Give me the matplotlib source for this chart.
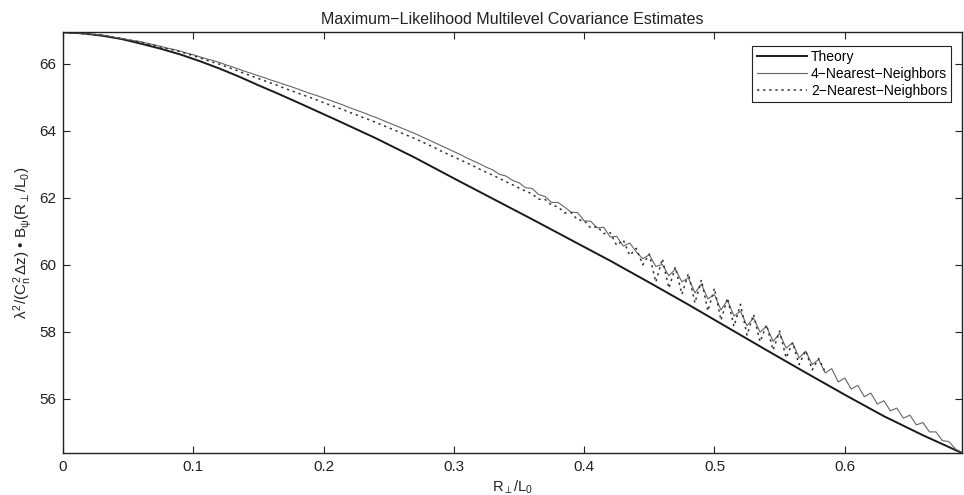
import numpy as np
import matplotlib
matplotlib.use("Agg")
import matplotlib.pyplot as plt

plt.rcParams['font.family'] = ['Liberation Sans', 'DejaVu Sans']
plt.rcParams['mathtext.fontset'] = 'custom'
plt.rcParams['mathtext.rm'] = 'Liberation Sans'
plt.rcParams['mathtext.it'] = 'Liberation Sans'
plt.rcParams['mathtext.bf'] = 'Liberation Sans:bold'

# ---- data ----
theory_x = [0.000, 0.015, 0.030, 0.045, 0.060, 0.075, 0.090, 0.105, 0.120, 0.135, 0.150,
            0.165, 0.18, 0.21, 0.24, 0.27, 0.30, 0.33, 0.36, 0.39, 0.42, 0.45, 0.48,
            0.51, 0.54, 0.57, 0.60, 0.63, 0.66, 0.69]
theory_y = [66.94, 66.91, 66.84, 66.74, 66.60, 66.45, 66.28, 66.08, 65.86, 65.62, 65.36,
            65.11, 64.85, 64.32, 63.78, 63.20, 62.58, 61.97, 61.36, 60.74, 60.12, 59.47, 58.81,
            58.13, 57.45, 56.78, 56.12, 55.48, 54.91, 54.38]

step = 0.005
nn4_y = [
    66.94, 66.93, 66.92, 66.90, 66.89, 66.87,
    66.86, 66.83, 66.79, 66.76, 66.72, 66.69,
    66.66, 66.61, 66.57, 66.52, 66.47, 66.43,
    66.38, 66.32, 66.27, 66.21, 66.15, 66.10,
    66.04, 65.97, 65.91, 65.84, 65.77, 65.71,
    65.64, 65.58, 65.51, 65.45, 65.38, 65.32,
    65.25, 65.18, 65.11, 65.05, 64.98, 64.91,
    64.84, 64.77, 64.69, 64.62, 64.55, 64.47,
    64.40, 64.32, 64.24, 64.16, 64.08, 64.00,
    63.92, 63.83, 63.74, 63.65, 63.56, 63.47,
    63.38, 63.29, 63.19, 63.10, 63.01, 62.91,
    62.83, 62.70, 62.65, 62.52, 62.45, 62.30,
    62.28, 62.10, 62.04, 61.86, 61.86, 61.72,
    61.57, 61.56, 61.31, 61.30, 61.10, 61.12,
    60.83, 60.85, 60.56, 60.65, 60.38, 60.18,
    60.30, 59.95, 60.01, 59.67, 59.87, 59.49,
    59.61, 59.16, 59.42, 58.98, 59.11, 58.65,
    58.94, 58.47, 58.61, 58.18, 58.41, 57.99,
    58.16, 57.71, 57.95, 57.51, 57.67, 57.22,
    57.42, 57.02, 57.17, 56.77, 56.90, 56.50,
    56.62, 56.29, 56.40, 56.06, 56.17, 55.84,
    55.94, 55.64, 55.72, 55.42, 55.51, 55.22,
    55.29, 55.01, 55.01, 54.75, 54.72, 54.50, 54.40,
]
nn2_y = [
    66.94, 66.93, 66.92, 66.90, 66.88, 66.87,
    66.85, 66.82, 66.78, 66.75, 66.71, 66.68,
    66.64, 66.59, 66.55, 66.50, 66.45, 66.41,
    66.36, 66.30, 66.24, 66.18, 66.11, 66.05,
    65.99, 65.92, 65.85, 65.78, 65.70, 65.63,
    65.56, 65.49, 65.42, 65.35, 65.27, 65.20,
    65.13, 65.06, 64.99, 64.92, 64.84, 64.77,
    64.70, 64.63, 64.55, 64.48, 64.40, 64.33,
    64.25, 64.17, 64.09, 64.01, 63.93, 63.85,
    63.77, 63.68, 63.59, 63.50, 63.40, 63.31,
    63.22, 63.13, 63.04, 62.95, 62.85, 62.76,
    62.67, 62.58, 62.48, 62.39, 62.29, 62.20,
    62.12, 61.96, 61.95, 61.78, 61.73, 61.55,
    61.56, 61.34, 61.32, 61.10, 61.14, 60.93,
    60.96, 60.58, 60.74, 60.28, 60.49, 60.00,
    60.32, 59.48, 60.18, 59.30, 59.93, 59.12,
    59.74, 58.86, 59.55, 58.62, 59.30, 58.34,
    59.01, 58.16, 58.82, 57.90, 58.52, 57.70,
    58.21, 57.45, 58.02, 57.22, 57.68, 57.02,
    57.44, 56.86, 57.20, 56.80,
]
nn4_x = np.arange(len(nn4_y)) * step
nn2_x = np.arange(len(nn2_y)) * step

title = "Maximum\u2212Likelihood Multilevel Covariance Estimates"
labels = ["Theory", "4\u2212Nearest\u2212Neighbors", "2\u2212Nearest\u2212Neighbors"]
xticks = [0, 0.1, 0.2, 0.3, 0.4, 0.5, 0.6]
xticklabels = ["0", "0.1", "0.2", "0.3", "0.4", "0.5", "0.6"]
yticks = [56, 58, 60, 62, 64, 66]

fig = plt.figure(figsize=(9.64, 4.95), dpi=100)
ax = fig.add_axes([63/964, 1 - 453/495, (962-63)/964, (453-32)/495])

ax.plot(theory_x, theory_y, color='#1a1a1a', lw=1.4, label=labels[0])
ax.plot(nn4_x, nn4_y, color='#666666', lw=0.8, label=labels[1])
ax.plot(nn2_x, nn2_y, color='#333333', lw=1.1, ls=(0, (1.5, 2.5)), label=labels[2])

ax.set_xlim(0, 0.69)
ax.set_ylim(54.38, 66.95)
ax.set_xticks(xticks)
ax.set_xticklabels(xticklabels)
ax.set_yticks(yticks)
ax.tick_params(direction='in', top=True, right=True, length=5, width=0.8,
               labelsize=11, colors='#222222', pad=5)
for s in ax.spines.values():
    s.set_linewidth(1.0)
    s.set_color('#222222')

ax.set_title(title, fontsize=11.5, color='#222222', pad=6)
ax.set_xlabel(r'$R_\perp/L_0$', fontsize=10.5, color='#222222', labelpad=3)
ax.set_ylabel(r'$\lambda^2/(C_n^2\,\Delta z)$ ' + '\u2022' + r' $B_\psi(R_\perp/L_0)$',
              fontsize=11, color='#222222', labelpad=4)

leg = ax.legend(loc='upper right', bbox_to_anchor=(0.988, 0.967), borderaxespad=0,
                fontsize=10, handlelength=3.6, labelspacing=0.2, handletextpad=0.3,
                fancybox=False, framealpha=1, edgecolor='#222222', borderpad=0.3)
leg.get_frame().set_linewidth(0.8)

fig.savefig("out.png", dpi=100)
